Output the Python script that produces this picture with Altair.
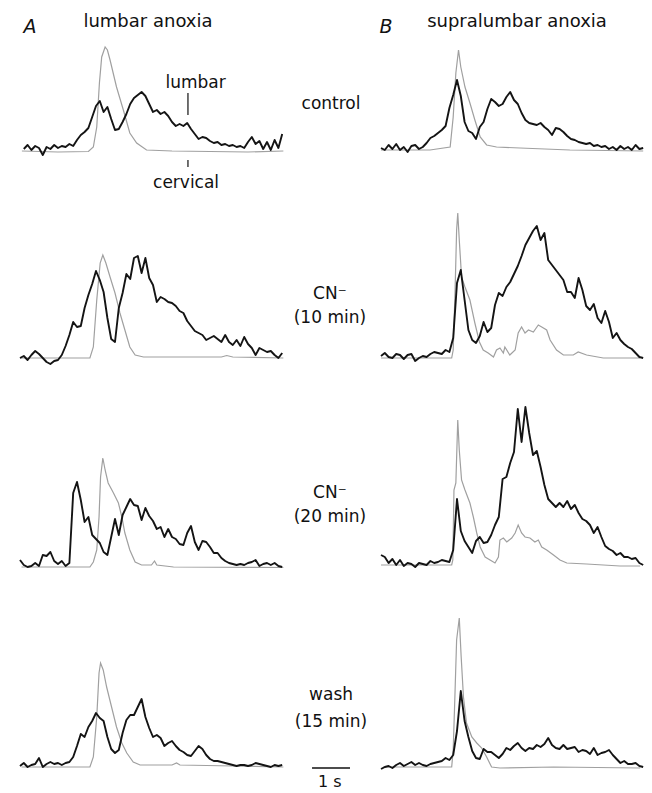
import altair as alt
import pandas as pd

# ---------------- data (time in s, amplitude in arbitrary units) ----------------
STEP = 0.1  # sampling step of the lumbar traces (s)

# lumbar (black) traces, one value every 0.1 s starting at t0
A1_lumbar_t0 = 0.1
A1_lumbar = [0.3, 0.7, 0.2, 0.6, 0.4, -0.3, 0.5, 0.3, 0.7, 0.4, 0.6, 0.5, 0.8, 0.6,
             1.2, 1.7, 2.0, 2.4, 3.5, 4.6, 5.1, 4.0, 4.5, 3.3, 2.2, 2.3, 3.0, 3.8, 4.8,
             5.4, 5.7, 6.0, 5.6, 4.8, 4.0, 4.2, 3.8, 4.0, 3.6, 3.0, 2.6, 2.8, 2.6, 2.9,
             2.3, 1.8, 1.3, 1.5, 1.4, 1.1, 0.9, 1.0, 0.7, 0.8, 0.6, 0.7, 0.5, 0.6, 0.4,
             1.0, 1.5, 0.8, 1.1, 0.3, 1.0, 0.2, 1.2, 0.4, 1.8]
A2_lumbar_t0 = 0.0
A2_lumbar = [0.0, 0.2, -0.2, 0.3, 0.7, 0.4, 0.0, -0.4, -0.6, -0.3,
             -0.2, 0.3, 1.2, 2.3, 3.6, 3.1, 3.2, 5.0, 6.3, 7.4,
             8.7, 7.8, 6.6, 4.0, 1.9, 1.6, 5.0, 6.5, 8.4, 7.9,
             10.0, 10.2, 8.5, 10.0, 8.0, 7.3, 5.6, 6.1, 5.9, 5.6,
             5.5, 5.2, 4.7, 4.5, 3.7, 3.2, 2.7, 2.5, 2.3, 1.8,
             2.0, 2.2, 1.9, 1.6, 2.3, 1.6, 1.3, 1.8, 1.2, 2.1,
             1.4, 1.0, 0.3, 1.0, 0.8, 0.6, 0.7, 0.3, 0.0, 0.5]
A3_lumbar_t0 = 0.0
A3_lumbar = [0.7, 0.2, 0.0, 0.1, 0.4, 0.1, 1.2, 1.1, 1.5, 0.6,
             0.3, 0.6, 0.1, 0.4, 7.4, 8.5, 6.7, 4.5, 5.0, 3.2,
             2.8, 2.4, 1.5, 1.2, 3.0, 4.8, 3.2, 5.2, 6.0, 6.8,
             6.2, 6.1, 4.7, 5.9, 5.1, 4.6, 3.8, 4.0, 3.0, 3.8,
             3.0, 2.8, 2.3, 2.2, 3.4, 4.1, 2.5, 1.7, 2.6, 2.5,
             2.0, 1.4, 1.4, 0.9, 0.6, 0.4, 0.3, 0.2, 0.3, 0.2,
             0.4, 0.5, 0.7, 0.1, 0.3, 0.4, 0.2, 0.4, 0.1, 0.0]
A4_lumbar_t0 = 0.0
A4_lumbar = [0.1, 0.4, 0.0, 0.2, 0.3, 0.9, 0.0, 0.3, 0.5, 0.3,
             0.4, 0.2, 0.4, 0.5, 1.0, 2.1, 3.3, 3.0, 4.0, 4.6,
             5.4, 4.9, 4.6, 3.0, 1.8, 1.4, 1.7, 3.4, 4.7, 5.2,
             5.2, 6.0, 6.8, 5.0, 3.9, 3.0, 3.2, 2.9, 2.1, 2.4,
             2.6, 2.1, 1.7, 1.5, 1.2, 1.1, 1.6, 2.1, 1.8, 1.2,
             0.8, 0.6, 0.6, 0.5, 0.4, 0.3, 0.2, 0.1, 0.2, 0.2,
             0.1, 0.2, 0.4, 0.3, 0.2, 0.1, 0.0, 0.2, 0.1, 0.2]
B1_lumbar_t0 = 0.0
B1_lumbar = [0.4, 0.2, 0.7, 0.3, 0.8, 0.2, 0.5, 0.0, 0.6, 0.7,
             0.3, 0.5, 0.9, 1.4, 1.6, 1.9, 2.2, 2.6, 4.4, 5.7,
             7.2, 5.6, 3.0, 2.1, 1.9, 1.3, 2.5, 3.0, 4.3, 5.3,
             5.0, 4.6, 4.8, 5.5, 6.0, 5.2, 4.8, 3.9, 3.2, 2.9,
             2.8, 2.7, 2.9, 2.5, 2.2, 1.7, 2.4, 2.3, 2.0, 1.6,
             1.3, 1.2, 1.0, 0.9, 0.8, 0.9, 0.6, 0.7, 0.5, 0.6,
             0.3, 0.5, 0.2, 0.6, 0.3, 0.5, 0.2, 0.7, 0.3, 0.4]
B2_lumbar_t0 = 0.0
B2_lumbar = [0.2, 0.5, 0.1, 0.0, 0.4, 0.3, -0.1, 0.3, 0.4, -0.3,
             0.0, 0.2, 0.1, 0.4, 0.6, 0.5, 0.4, 0.8, 0.6, 2.0,
             7.5, 8.8, 5.8, 2.8, 1.8, 1.5, 2.2, 3.6, 2.6, 3.0,
             5.3, 6.5, 6.2, 7.1, 7.6, 8.4, 9.2, 10.2, 11.3, 12.0,
             12.7, 13.2, 11.8, 12.5, 9.8, 9.3, 8.8, 8.3, 7.8, 6.6,
             6.6, 6.0, 8.0, 6.8, 5.2, 4.8, 5.4, 4.0, 3.5, 4.7,
             3.6, 2.0, 2.5, 1.8, 1.4, 1.1, 0.9, 0.5, 0.1, 0.0]
B3_lumbar_t0 = 0.0
B3_lumbar = [1.2, 1.0, 0.4, 0.8, 0.2, 0.7, 0.1, 0.4, 0.3, 0.0,
             0.4, 0.3, 0.2, 0.6, 0.4, 0.5, 0.7, 0.6, 0.5, 1.7,
             6.8, 3.6, 2.6, 2.0, 1.4, 2.6, 3.0, 2.4, 2.5, 3.2,
             4.2, 5.0, 8.8, 9.0, 10.4, 11.5, 15.8, 12.5, 16.0, 13.4,
             11.2, 11.6, 10.0, 8.2, 6.8, 6.4, 6.0, 6.4, 6.0, 6.6,
             5.8, 6.2, 5.4, 4.8, 4.6, 4.2, 3.4, 4.0, 3.0, 2.1,
             1.8, 1.6, 1.2, 1.4, 1.0, 1.0, 0.8, 0.9, 0.4, 0.2]
B4_lumbar_t0 = 0.0
B4_lumbar = [-0.2, 0.0, 0.1, -0.1, 0.2, 0.4, 0.1, 0.3, 0.5, 0.2,
             0.4, 0.2, 0.1, 0.3, 0.4, 0.5, 0.6, 0.9, 0.7, 1.2,
             3.6, 7.6, 4.6, 3.0, 1.6, 0.9, 0.8, 1.8, 1.5, 1.5,
             1.2, 0.9, 1.3, 1.9, 1.7, 2.1, 2.4, 1.9, 1.6, 1.9,
             1.8, 2.2, 2.0, 2.3, 2.9, 2.2, 1.9, 1.8, 2.2, 1.8,
             1.9, 2.0, 1.5, 1.7, 1.6, 1.3, 1.9, 1.2, 1.4, 1.5,
             1.7, 1.2, 0.8, 0.4, 0.6, 0.3, 0.3, 0.4, 0.1, 0.0]

# cervical (grey) traces: time / value pairs
A1_cerv_t = [0.05, 1.0, 1.8, 1.93, 2.02, 2.09, 2.15, 2.24, 2.30, 2.37, 2.54, 2.72, 2.89, 3.07, 3.33, 4.0, 5.0, 6.0, 6.93]
A1_cerv_v = [0.1, 0.0, 0.05, 0.5, 2.5, 6.9, 9.5, 10.5, 10.2, 9.2, 6.5, 4.2, 1.9, 0.9, 0.2, 0.1, 0.05, 0.0, 0.1]
A2_cerv_t = [0.0, 1.05, 1.84, 1.93, 2.02, 2.11, 2.18, 2.26, 2.37, 2.50, 2.63, 2.76, 2.89, 3.03, 3.25, 5.3, 5.44, 5.6, 6.93]
A2_cerv_v = [0.0, 0.0, 0.0, 1.1, 5.8, 9.5, 10.3, 9.5, 8.1, 6.5, 4.5, 2.8, 1.1, 0.3, 0.1, 0.1, 0.25, 0.1, 0.0]
A3_cerv_t = [0.04, 1.84, 1.93, 2.02, 2.08, 2.12, 2.18, 2.24, 2.32, 2.46, 2.59, 2.68, 2.76, 2.89, 3.03, 3.20, 3.46, 3.54, 3.60, 4.04, 6.93]
A3_cerv_v = [0.0, 0.0, 0.5, 1.7, 5.0, 9.0, 10.9, 9.7, 8.4, 7.4, 6.4, 5.0, 3.4, 1.7, 0.5, 0.2, 0.2, 0.6, 0.2, 0.0, -0.05]
A4_cerv_t = [0.04, 1.84, 1.93, 2.02, 2.08, 2.12, 2.19, 2.28, 2.41, 2.54, 2.68, 2.81, 2.98, 3.16, 4.0, 4.12, 4.21, 5.61, 6.93]
A4_cerv_v = [0.0, 0.0, 1.0, 5.0, 9.4, 10.4, 9.7, 8.0, 6.0, 4.0, 2.4, 1.4, 0.5, 0.2, 0.2, 0.4, 0.2, 0.1, 0.0]
B1_cerv_t = [0.0, 1.29, 1.82, 1.90, 1.97, 2.04, 2.10, 2.21, 2.34, 2.47, 2.61, 2.78, 3.04, 3.66, 4.97, 6.9]
B1_cerv_v = [0.2, 0.2, 0.5, 3.5, 7.9, 10.2, 8.5, 6.5, 4.9, 3.2, 1.5, 0.7, 0.5, 0.4, 0.2, 0.1]
B2_cerv_t = [0.0, 1.86, 1.90, 1.95, 1.99, 2.02, 2.06, 2.12, 2.21, 2.34, 2.47, 2.59, 2.69, 2.82, 2.96, 3.04, 3.13,
             3.22, 3.26, 3.39, 3.53, 3.61, 3.70, 3.79, 3.88, 4.01, 4.14, 4.23, 4.36, 4.45, 4.62, 4.80, 5.06, 5.19,
             5.41, 5.85, 6.82]
B2_cerv_v = [0.0, 0.0, 0.8, 6.8, 12.8, 14.5, 11.8, 8.1, 7.1, 5.8, 3.5, 1.6, 0.8, 0.5, 0.1, 0.8, 1.0,
             0.5, 1.1, 0.3, 0.8, 2.5, 3.1, 2.5, 2.8, 2.6, 3.3, 3.1, 2.8, 1.8, 0.8, 0.3, 0.3, 0.6,
             0.3, 0.0, 0.0]
B3_cerv_t = [0.0, 1.86, 1.89, 1.92, 1.97, 2.02, 2.06, 2.12, 2.21, 2.34, 2.43, 2.52, 2.61, 2.74, 2.87, 3.00, 3.09,
             3.13, 3.22, 3.31, 3.44, 3.53, 3.61, 3.70, 3.79, 3.92, 4.05, 4.14, 4.23, 4.36, 4.54, 4.71, 4.89, 5.41,
             6.29, 6.82]
B3_cerv_v = [0.2, 0.2, 0.7, 7.7, 8.4, 14.7, 11.7, 8.7, 7.7, 6.4, 5.0, 3.4, 2.0, 1.0, 0.7, 0.4, 1.0,
             2.7, 2.9, 2.5, 2.9, 3.4, 4.2, 3.4, 3.0, 2.9, 2.5, 2.7, 2.0, 1.7, 1.2, 0.7, 0.4, 0.3,
             0.1, 0.1]
B4_cerv_t = [0.06, 1.86, 1.90, 1.95, 1.99, 2.06, 2.11, 2.17, 2.25, 2.39, 2.52, 2.65, 2.78, 2.91, 3.13, 4.54, 6.82]
B4_cerv_v = [0.0, 0.0, 1.7, 7.7, 12.7, 14.9, 11.0, 7.0, 4.4, 3.0, 2.4, 1.9, 1.0, 0.0, -0.1, 0.0, -0.1]

# text
column_letters = ["A", "B"]
column_titles = ["lumbar anoxia", "supralumbar anoxia"]
condition_lines = [["control"], ["CN\u207b", "(10 min)"], ["CN\u207b", "(20 min)"], ["wash", "(15 min)"]]
trace_labels = ["lumbar", "cervical"]
scale_label = "1 s"
scale_length = 1.0  # s

# ---------------- layout ----------------
FONT = "DejaVu Sans"
BLACK = "#141414"
GREY = "#a0a0a0"
A_W, MID_W, B_W = 290, 82, 280
A_XDOM = [-0.526, 7.105]
B_XDOM = [-0.237, 7.132]
MID_XDOM = [0.0, 2.158]
HDR_H = 40
ROW_H = [155, 190, 205, 203]
ROW_YDOM = [[-4.3, 11.2], [-2.7, 16.3], [-2.3, 18.2], [-2.6, 17.7]]


def xs(dom):
    return alt.X("t:Q", scale=alt.Scale(domain=dom, nice=False, zero=False), axis=None)


def ys(dom, field="v:Q"):
    return alt.Y(field, scale=alt.Scale(domain=dom, nice=False, zero=False), axis=None)


def texts(df, xdom, ydom, size, **kw):
    return alt.Chart(df).mark_text(font=FONT, fontSize=size, color="#111111",
                                   baseline="alphabetic", **kw).encode(
        x=xs(xdom), y=ys(ydom), text="label:N")


def trace_panel(lumbar, t0, ct, cv, xdom, ydom, w, h, extra=()):
    df_l = pd.DataFrame({"t": [round(t0 + STEP * i, 3) for i in range(len(lumbar))], "v": lumbar})
    df_c = pd.DataFrame({"t": ct, "v": cv})
    grey = alt.Chart(df_c).mark_line(color=GREY, strokeWidth=1.2).encode(x=xs(xdom), y=ys(ydom))
    black = alt.Chart(df_l).mark_line(color=BLACK, strokeWidth=1.9, strokeJoin="round").encode(
        x=xs(xdom), y=ys(ydom))
    return alt.layer(grey, black, *extra).properties(width=w, height=h)


# header
hdrA_xdom = [A_XDOM[0], A_XDOM[0] + (A_W + MID_W) / 38.0]
hdrA = alt.layer(
    texts(pd.DataFrame({"t": [0.263], "v": [0.7], "label": [column_letters[0]]}), hdrA_xdom, [0, 4], 19,
          fontStyle="italic"),
    texts(pd.DataFrame({"t": [3.368], "v": [1.3], "label": [column_titles[0]]}), hdrA_xdom, [0, 4], 18),
).properties(width=A_W + MID_W, height=HDR_H)
hdrB = alt.layer(
    texts(pd.DataFrame({"t": [0.13], "v": [0.7], "label": [column_letters[1]]}), B_XDOM, [0, 4], 19,
          fontStyle="italic"),
    texts(pd.DataFrame({"t": [3.58], "v": [1.3], "label": [column_titles[1]]}), B_XDOM, [0, 4], 18),
).properties(width=B_W, height=HDR_H)
header = alt.hconcat(hdrA, hdrB, spacing=0)

# annotations in panel A, control row
ann_df = pd.DataFrame({"t": [4.62, 4.37], "v": [6.4, -3.6], "label": trace_labels})
tick_df = pd.DataFrame({"t": [4.42, 4.42], "v": [5.9, -0.8], "v2": [3.7, -1.5]})
ann = [
    texts(ann_df, A_XDOM, ROW_YDOM[0], 17),
    alt.Chart(tick_df).mark_rule(color="#111111", strokeWidth=1.2).encode(
        x=xs(A_XDOM), y=ys(ROW_YDOM[0]), y2="v2:Q"),
]

lumbars = [(A1_lumbar, A1_lumbar_t0, B1_lumbar, B1_lumbar_t0),
           (A2_lumbar, A2_lumbar_t0, B2_lumbar, B2_lumbar_t0),
           (A3_lumbar, A3_lumbar_t0, B3_lumbar, B3_lumbar_t0),
           (A4_lumbar, A4_lumbar_t0, B4_lumbar, B4_lumbar_t0)]
cervs = [(A1_cerv_t, A1_cerv_v, B1_cerv_t, B1_cerv_v),
         (A2_cerv_t, A2_cerv_v, B2_cerv_t, B2_cerv_v),
         (A3_cerv_t, A3_cerv_v, B3_cerv_t, B3_cerv_v),
         (A4_cerv_t, A4_cerv_v, B4_cerv_t, B4_cerv_v)]
# label baselines (units) for each row's condition lines
label_pos = [[(1.08, 4.3)], [(1.05, 5.9), (1.05, 3.5)], [(1.05, 6.9), (1.05, 4.5)], [(1.08, 6.7), (1.08, 4.0)]]

rows = []
for i in range(4):
    la, ta, lb, tb = lumbars[i]
    cat, cav, cbt, cbv = cervs[i]
    ydom = ROW_YDOM[i]
    pA = trace_panel(la, ta, cat, cav, A_XDOM, ydom, A_W, ROW_H[i], extra=ann if i == 0 else ())
    pB = trace_panel(lb, tb, cbt, cbv, B_XDOM, ydom, B_W, ROW_H[i])
    lab_df = pd.DataFrame({"t": [p[0] for p in label_pos[i]], "v": [p[1] for p in label_pos[i]],
                           "label": condition_lines[i]})
    mid_layers = [texts(lab_df, MID_XDOM, ydom, 17)]
    if i == 3:
        bar_df = pd.DataFrame({"t": [0.58], "t2": [0.58 + scale_length], "v": [-0.1]})
        mid_layers.append(alt.Chart(bar_df).mark_rule(color="#111111", strokeWidth=1.5).encode(
            x=xs(MID_XDOM), x2="t2:Q", y=ys(ydom)))
        mid_layers.append(texts(pd.DataFrame({"t": [1.05], "v": [-1.95], "label": [scale_label]}),
                                MID_XDOM, ydom, 16))
    mid = alt.layer(*mid_layers).properties(width=MID_W, height=ROW_H[i])
    rows.append(alt.hconcat(pA, mid, pB, spacing=0))

chart = alt.vconcat(header, *rows, spacing=0).properties(
    padding=0, background="white").configure_view(stroke=None)

chart.save("out.html", embed_options={"renderer": "svg", "actions": False})
